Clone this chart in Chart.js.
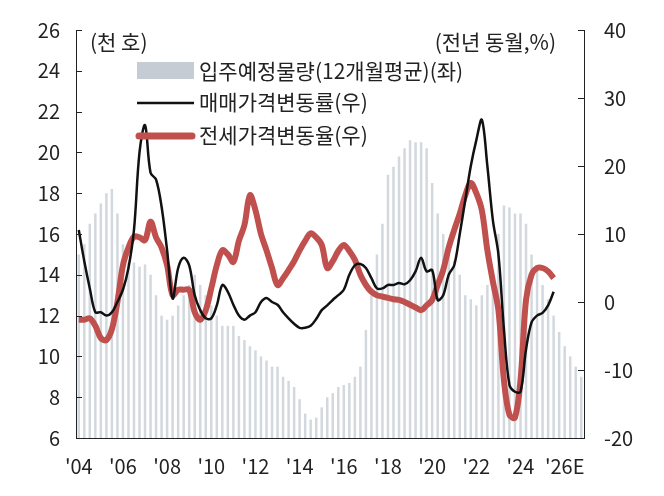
<!DOCTYPE html>
<html><head><meta charset="utf-8">
<script src="https://cdn.jsdelivr.net/npm/chart.js@4"></script>
<style>body{margin:0;background:#fff}#wrap{width:664px;height:496px}</style>
</head><body><div id="wrap"><canvas id="c"></canvas></div>
<script>
// quarterly, 2004Q1 .. 2026Q4
const years = [];
for (let y = 2004; y <= 2026; y++) for (let q = 1; q <= 4; q++) years.push(y + 'Q' + q);

const supply = [
  15, 15.5, 16.5, 17,   17.5, 18, 18.2, 17,   15.5, 14.6, 14.6, 14.4,
  14.5, 14, 13, 12,     11.8, 12, 12.5, 13,   13.5, 14, 13.5, 13,
  12.5, 12, 11.5, 11.5, 11.5, 11, 10.8, 10.5, 10.3, 10, 9.8, 9.5,
  9.5, 9, 8.8, 8.5,     7.9, 7.2, 6.9, 7,     7.5, 8, 8.2, 8.5,
  8.6, 8.7, 9, 9.5,     11.3, 13, 15, 16.5,   18.9, 19.3, 19.8, 20.2,
  20.6, 20.5, 20.5, 20.2, 18.5, 17, 16, 15,   14.7, 14, 13, 12.8,
  12.5, 13, 13.5, 14.2, 16, 17.4, 17.3, 17,   17, 16.5, 15, 14.2,
  13.5, 12.8, 12, 11.2, 10.5, 10, 9.5, 9
];
const salePrice = [
  10.6, 6, 2, -1.5,     -1.5, -2, -1.5, 0,    1.8, 5, 10.6, 22,
  26, 19, 18, 14,       7.6, 0.5, 5, 6.5,     5.4, 1, -1.2, -2.4,
  -2.4, -0.5, 2.5, 1.5, -0.4, -2, -2.6, -2,   -1.5, 0, 0.6, 0,
  -0.4, -1.5, -2.4, -3.2, -3.8, -3.8, -3.5, -2.5, -1.2, -0.5, 0.3, 1,
  1.8, 4, 5.4, 5.6,     5, 3.5, 2, 2,         2.5, 2.5, 2.8, 2.6,
  3.2, 4.5, 6.5, 4.5,   4.7, 0.3, 1, 4,       5.4, 10, 15, 20,
  23.8, 26.8, 20, 12,   7, -4, -12.2, -13.2,  -13.2, -7, -3, -2,
  -1.6, -0.5, 1.5, null, null, null, null, null
];
const jeonsePrice = [
  -2.6, -2.6, -2.4, -3.5, -5.3, -5.6, -4, 0,  5.4, 8, 9.6, 9.5,
  9.1, 11.8, 9.5, 8,    5.4, 1, 1.8, 1.8,     1.8, -1.5, -2.6, -1.2,
  2, 5.4, 7.6, 7,       5.9, 9, 11.3, 15.7,   13.5, 10, 7.6, 5,
  2.5, 3.5, 4.7, 6,     7.6, 9, 10.1, 9.5,    8.4, 5, 6, 7.5,
  8.4, 7.5, 6.2, 4,     2.5, 1.5, 1, 0.8,     0.6, 0.4, 0.3, 0,
  -0.4, -0.8, -1.2, -0.5, 0.3, 2.5, 4.7, 8,   10.6, 13, 15.7, 17.5,
  16, 13.5, 7.6, 3,     -1.2, -11.5, -16.6, -17, -11.5, 0.3, 4, 5,
  5, 4.5, 3.5, null,    null, null, null, null
];
const leftTicks = [6, 8, 10, 12, 14, 16, 18, 20, 22, 24, 26];
const rightTicks = [-20, -10, 0, 10, 20, 30, 40];

const KR = '"Noto Sans CJK KR", "Noto Sans", sans-serif';

const overlay = {
  id: 'overlay',
  afterDraw(chart) {
    const ctx = chart.ctx;
    const yl = chart.scales.y, yr = chart.scales.y1, a = chart.chartArea;
    ctx.save();
    ctx.strokeStyle = '#222'; ctx.lineWidth = 1;
    leftTicks.forEach(v => {
      const p = Math.round(yl.getPixelForValue(v)) + 0.5;
      ctx.beginPath(); ctx.moveTo(a.left, p); ctx.lineTo(a.left + 6, p); ctx.stroke();
    });
    rightTicks.forEach(v => {
      const p = Math.round(yr.getPixelForValue(v)) + 0.5;
      ctx.beginPath(); ctx.moveTo(a.right, p); ctx.lineTo(a.right - 6, p); ctx.stroke();
    });
    ctx.fillStyle = '#222';
    ctx.font = '21px ' + KR;
    ctx.textBaseline = 'middle';
    ctx.textAlign = 'left';
    ctx.fillText('(천 호)', 90, 42);
    ctx.textAlign = 'right';
    ctx.fillText('(전년 동월,%)', 556, 42);
    // legend
    ctx.textAlign = 'left';
    ctx.fillStyle = '#c5ccd3';
    ctx.fillRect(137, 62, 57, 17);
    ctx.strokeStyle = '#111'; ctx.lineWidth = 2.5;
    ctx.beginPath(); ctx.moveTo(137, 103); ctx.lineTo(194, 103); ctx.stroke();
    ctx.strokeStyle = '#c0504d'; ctx.lineWidth = 7; ctx.lineCap = 'round';
    ctx.beginPath(); ctx.moveTo(139, 136); ctx.lineTo(192, 136); ctx.stroke();
    ctx.fillStyle = '#222';
    ctx.fillText('입주예정물량(12개월평균)(좌)', 199, 71);
    ctx.fillText('매매가격변동률(우)', 199, 102);
    ctx.fillText('전세가격변동율(우)', 199, 135);
    ctx.restore();
  }
};

new Chart(document.getElementById('c'), {
  data: {
    labels: years,
    datasets: [
      { type: 'line', data: jeonsePrice, yAxisID: 'y1', borderColor: '#c0504d', borderWidth: 6,
        pointRadius: 0, tension: 0.35, order: 1 },
      { type: 'line', data: salePrice, yAxisID: 'y1', borderColor: '#111', borderWidth: 2.5,
        pointRadius: 0, tension: 0.35, order: 0 },
      { type: 'bar', data: supply, yAxisID: 'y', backgroundColor: '#d2d8dd',
        barPercentage: 0.45, categoryPercentage: 1, order: 2 }
    ]
  },
  options: {
    responsive: true, maintainAspectRatio: false, animation: false,
    layout: { padding: { top: 30, right: 0 } },
    plugins: { legend: { display: false }, tooltip: { enabled: false } },
    scales: {
      x: {
        grid: { display: false }, border: { display: true, color: '#222' },
        ticks: {
          autoSkip: false, maxRotation: 0, color: '#222', padding: 8,
          font: { size: 20, family: KR },
          callback: (v, i) => {
            if (i % 8 !== 0) return '';
            const y = String(2004 + i / 4).slice(2);
            return "'" + y + (i >= 88 ? 'E' : '');
          }
        },
        afterFit: s => { s.height = 58; }
      },
      y: {
        position: 'left', min: 6, max: 26,
        grid: { display: false }, border: { display: true, color: '#222' },
        ticks: { stepSize: 2, color: '#222', font: { size: 20, family: KR }, padding: 8 },
        afterFit: s => { s.width = 76; }
      },
      y1: {
        position: 'right', min: -20, max: 40,
        grid: { display: false }, border: { display: true, color: '#222' },
        ticks: { stepSize: 10, color: '#222', font: { size: 20, family: KR }, padding: 12 },
        afterFit: s => { s.width = 80; }
      }
    }
  },
  plugins: [overlay]
});
</script>
</body></html>
